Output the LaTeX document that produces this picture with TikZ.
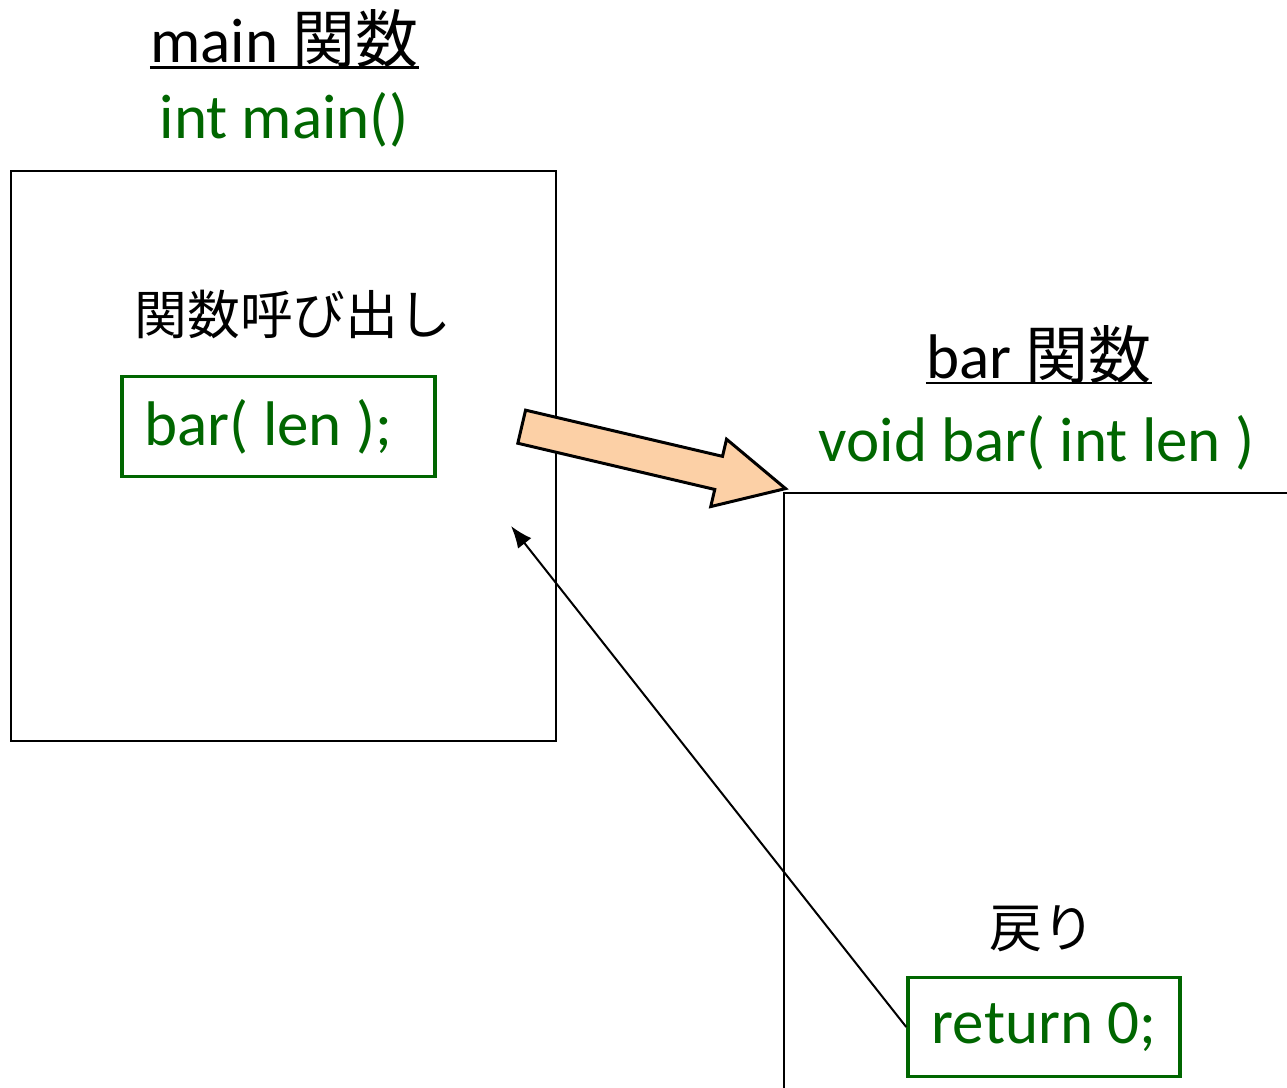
\documentclass[tikz,border=0pt]{standalone}
\usepackage{fontspec}
\setmainfont{Carlito}
\newfontfamily\jpfont{Noto Sans CJK JP}
\usetikzlibrary{calc,arrows.meta}
\definecolor{codegreen}{RGB}{0,102,0}
\definecolor{callorange}{RGB}{252,208,166}

\begin{document}
\begin{tikzpicture}[x=0.5pt,y=-0.5pt]
\tikzstyle{title}=[inner sep=0pt,anchor=base,font=\fontsize{31.5}{38}\selectfont]

\tikzstyle{code}=[inner sep=0pt,anchor=base,text=codegreen,font=\fontsize{31.5}{38}\selectfont]

\tikzstyle{note}=[inner sep=0pt,font=\jpfont\fontsize{26.4}{32}\selectfont]

\tikzstyle{codebox}=[draw=codegreen,line width=1.75pt,text=codegreen,font=\fontsize{31.5}{38}\selectfont]

\useasboundingbox (0,0) rectangle (1287,1088);

\node (mainhead) [title] at (284.5,62) {main {\jpfont 関数}};
\node (mainsig) [code] at (284,138) {int main()};
\node (mainbox) [draw,line width=1pt,outer sep=0pt,minimum width=272.5pt,minimum height=285pt] at (283.5,456) {};
\node (callnote) [note] at (293,314) {関数呼び出し};
\node (call) [codebox,inner xsep=0pt,minimum width=156.5pt,minimum height=50pt] at (278.3,426.7) {bar( len );\kern10pt};

\node (barhead) [title] at (1039,378.3) {bar {\jpfont 関数}};
\node (barsig) [code] at (1036.5,461.7) {void bar( int len )};
\coordinate (barcorner) at (784,493);
\draw [line width=1pt] (1287,493) -- (barcorner) -- (784,1088);
\node (retnote) [note] at (1042,929) {戻り};
\node (ret) [codebox,minimum width=136pt,minimum height=49.5pt] at (1044,1027) {return 0;};

\draw [line width=1.3pt] ([yshift=-2.6pt]mainhead.base west) -- ([yshift=-2.6pt]mainhead.base east);
\draw [line width=1.3pt] ([yshift=-2.4pt]barhead.base west) -- ([yshift=-2.4pt]barhead.base east);

\coordinate (calltail) at (521.7,426.7);
\begin{scope}[shift={(calltail)},rotate=-13.2]
\draw [line width=1.5pt,fill=callorange,line join=miter] (0,-17) -- (202.3,-17) -- (202.3,-34.6) -- (271,0) -- (202.3,34.6) -- (202.3,17) -- (0,17) -- cycle;
\end{scope}

\coordinate (retend) at (511,526);
\draw [line width=1pt,-{Latex[length=11pt,width=8.5pt]}] (ret.west) -- (retend);

\end{tikzpicture}
\end{document}
